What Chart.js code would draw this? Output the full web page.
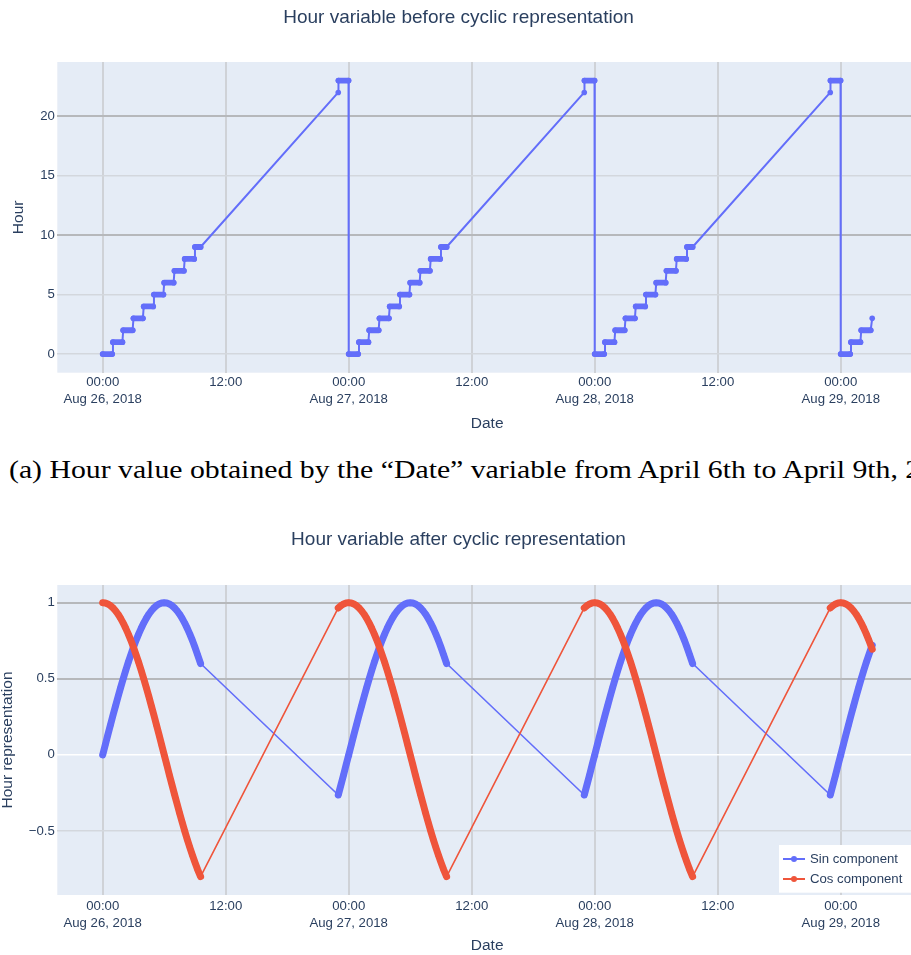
<!DOCTYPE html>
<html>
<head>
<meta charset="utf-8">
<script src="https://cdn.jsdelivr.net/npm/chart.js@4.4.1/dist/chart.umd.min.js"></script>
<style>
  html, body { margin: 0; padding: 0; background: #fff; }
  body { width: 911px; height: 955px; overflow: hidden; position: relative; }
  .box { position: absolute; left: 0; width: 974px; }
  #top { top: 0; height: 438px; }
  #bottom { top: 500px; height: 455px; }
  .caption {
    position: absolute; left: 9px; top: 457px; margin: 0;
    white-space: nowrap; line-height: 1;
    font-family: "Liberation Serif", "DejaVu Serif", serif; font-size: 25px; color: #000;
    transform: scaleX(1.19); transform-origin: 0 0;
  }
</style>
</head>
<body>
<div class="box" id="top"><canvas id="hourChart"></canvas></div>
<p class="caption">(a) Hour value obtained by the “Date” variable from April 6th to April 9th, 2018.</p>
<div class="box" id="bottom"><canvas id="cyclicChart"></canvas></div>

<script>
// x values are hours counted from Aug 26, 2018 00:00
const dayOffsets = [0, 24, 48];
const xTickValues = [0, 12, 24, 36, 48, 60, 72];
const dateLabels = ['Aug 26, 2018', 'Aug 27, 2018', 'Aug 28, 2018', 'Aug 29, 2018'];

// one day of the "Hour" variable: first and last record of each hour
const dayHourTimes = [0, 0.92, 1, 1.92, 2, 2.92, 3, 3.92, 4, 4.92, 5, 5.92, 6, 6.92, 7, 7.92, 8, 8.92, 9, 9.55, 22.98, 23, 23.98];
const dayHourValues = [0, 0, 1, 1, 2, 2, 3, 3, 4, 4, 5, 5, 6, 6, 7, 7, 8, 8, 9, 9, 22, 23, 23];
// Aug 29, up to the last record
const lastHourTimes = [72, 72.92, 73, 73.92, 74, 74.92, 75.07];
const lastHourValues = [0, 0, 1, 1, 2, 2, 3];

// cyclic representation, read every quarter hour
const dayCycTimes = [0, 0.25, 0.5, 0.75, 1, 1.25, 1.5, 1.75, 2, 2.25, 2.5, 2.75, 3, 3.25, 3.5, 3.75,
  4, 4.25, 4.5, 4.75, 5, 5.25, 5.5, 5.75, 6, 6.25, 6.5, 6.75, 7, 7.25, 7.5, 7.75,
  8, 8.25, 8.5, 8.75, 9, 9.25, 9.55, 22.98, 23.25, 23.5, 23.75, 23.98];
const daySin = [0, 0.065, 0.131, 0.195, 0.259, 0.321, 0.383, 0.442, 0.5, 0.556, 0.609, 0.659, 0.707, 0.752, 0.793, 0.831,
  0.866, 0.897, 0.924, 0.947, 0.966, 0.981, 0.991, 0.998, 1, 0.998, 0.991, 0.981, 0.966, 0.947, 0.924, 0.897,
  0.866, 0.831, 0.793, 0.752, 0.707, 0.659, 0.6, -0.264, -0.195, -0.131, -0.065, -0.005];
const dayCos = [1, 0.998, 0.991, 0.981, 0.966, 0.947, 0.924, 0.897, 0.866, 0.831, 0.793, 0.752, 0.707, 0.659, 0.609, 0.556,
  0.5, 0.442, 0.383, 0.321, 0.259, 0.195, 0.131, 0.065, 0, -0.065, -0.131, -0.195, -0.259, -0.321, -0.383, -0.442,
  -0.5, -0.556, -0.609, -0.659, -0.707, -0.752, -0.8, 0.965, 0.981, 0.991, 0.998, 1];
const lastCycTimes = [72, 72.25, 72.5, 72.75, 73, 73.25, 73.5, 73.75, 74, 74.25, 74.5, 74.75, 75, 75.07];
const lastSin = [0, 0.065, 0.131, 0.195, 0.259, 0.321, 0.383, 0.442, 0.5, 0.556, 0.609, 0.659, 0.707, 0.72];
const lastCos = [1, 0.998, 0.991, 0.981, 0.966, 0.947, 0.924, 0.897, 0.866, 0.831, 0.793, 0.752, 0.707, 0.694];

const BLUE = '#636efa';
const RED = '#ef553b';
const TEXT = '#2a3f5f';

Chart.defaults.font.family = '"Liberation Sans", Arial, sans-serif';
Chart.defaults.color = TEXT;

function buildPoints(times, values, lastTimes, lastValues) {
  const pts = [];
  dayOffsets.forEach(off => {
    times.forEach((t, i) => pts.push({ x: off + t, y: values[i] }));
  });
  lastTimes.forEach((t, i) => pts.push({ x: t, y: lastValues[i] }));
  return pts;
}

const plotBackground = {
  id: 'plotBackground',
  beforeDraw(chart) {
    const { ctx, chartArea: a } = chart;
    ctx.save();
    ctx.fillStyle = '#e5ecf6';
    ctx.fillRect(a.left, a.top, a.right - a.left, a.bottom - a.top);
    ctx.restore();
  }
};

// plotly-like legend box in the lower right corner of the plot
const cornerLegend = {
  id: 'cornerLegend',
  afterDraw(chart) {
    const { ctx, chartArea: a } = chart;
    const left = a.right - 138, top = a.bottom - 50;
    ctx.save();
    ctx.fillStyle = '#fff';
    ctx.fillRect(left, top, 136, 47.7);
    ctx.font = '13.2px "Liberation Sans", Arial, sans-serif';
    ctx.textBaseline = 'middle';
    chart.data.datasets.forEach((ds, i) => {
      const y = top + 14 + i * 20;
      ctx.strokeStyle = ds.borderColor;
      ctx.lineWidth = 2;
      ctx.beginPath();
      ctx.moveTo(left + 4, y);
      ctx.lineTo(left + 26, y);
      ctx.stroke();
      ctx.fillStyle = ds.borderColor;
      ctx.beginPath();
      ctx.arc(left + 15, y, 3, 0, Math.PI * 2);
      ctx.fill();
      ctx.fillStyle = TEXT;
      ctx.fillText(ds.label, left + 31, y);
    });
    ctx.restore();
  }
};

function xAxis(height, padding, titleBottom) {
  return {
    type: 'linear',
    min: -4.43,
    max: 79.44,
    afterFit: s => { s.height = height; },
    afterBuildTicks: s => { s.ticks = xTickValues.map(v => ({ value: v })); },
    border: { display: false },
    grid: { color: '#cfd2d7', lineWidth: 2, drawTicks: false },
    ticks: {
      autoSkip: false,
      maxRotation: 0,
      padding: padding,
      font: { size: 13.2, lineHeight: 1.3 },
      callback: v => (v % 24 === 0 ? ['00:00', dateLabels[v / 24]] : '12:00')
    },
    title: { display: true, text: 'Date', font: { size: 15.5 }, padding: { top: 5, bottom: titleBottom } }
  };
}

const commonOptions = {
  responsive: true,
  maintainAspectRatio: false,
  animation: false,
  events: [],
  layout: { padding: { left: 0, right: 57, top: 0, bottom: 0 } }
};

function cyclicDataset(label, data, color, order) {
  return {
    label: label,
    data: data,
    order: order,
    borderColor: color,
    backgroundColor: color,
    borderWidth: 1.6,
    borderCapStyle: 'round',
    borderJoinStyle: 'round',
    pointRadius: 3,
    pointBorderWidth: 0,
    pointBackgroundColor: color,
    segment: {
      // consecutive records give the thick band, the overnight gap a thin line
      borderWidth: c => (c.p1.parsed.x - c.p0.parsed.x < 2 ? 7 : 1.6)
    }
  };
}

new Chart(document.getElementById('hourChart'), {
  type: 'line',
  data: {
    datasets: [{
      label: 'Hour',
      data: buildPoints(dayHourTimes, dayHourValues, lastHourTimes, lastHourValues),
      borderColor: BLUE,
      backgroundColor: BLUE,
      borderWidth: 2,
      borderCapStyle: 'round',
      borderJoinStyle: 'round',
      pointRadius: 2.8,
      pointBorderWidth: 0,
      pointBackgroundColor: BLUE,
      segment: {
        borderWidth: c => (c.p0.parsed.y === c.p1.parsed.y ? 5.8 : 2)
      }
    }]
  },
  options: {
    ...commonOptions,
    plugins: {
      legend: { display: false },
      tooltip: { enabled: false },
      title: {
        display: true,
        text: 'Hour variable before cyclic representation',
        color: TEXT,
        font: { size: 19, weight: 'normal' },
        padding: { top: 6.6, bottom: 32.6 }
      }
    },
    scales: {
      x: xAxis(65.3, 1, 4.7),
      y: {
        min: -1.57,
        max: 24.56,
        afterFit: s => { s.width = 57.3; },
        border: { display: false },
        grid: {
          drawTicks: false,
          color: c => (c.tick.value === 10 || c.tick.value === 20 ? '#b6b8bb' : '#d3d7dd'),
          lineWidth: c => (c.tick.value === 10 || c.tick.value === 20 ? 2 : 1.5)
        },
        ticks: { stepSize: 5, includeBounds: false, padding: 2.5, font: { size: 13.2 } },
        title: { display: true, text: 'Hour', font: { size: 15.5 }, padding: { top: 9.5 } }
      }
    }
  },
  plugins: [plotBackground]
});

new Chart(document.getElementById('cyclicChart'), {
  type: 'line',
  data: {
    datasets: [
      cyclicDataset('Sin component', buildPoints(dayCycTimes, daySin, lastCycTimes, lastSin), BLUE, 1),
      cyclicDataset('Cos component', buildPoints(dayCycTimes, dayCos, lastCycTimes, lastCos), RED, 0)
    ]
  },
  options: {
    ...commonOptions,
    plugins: {
      legend: { display: false },
      tooltip: { enabled: false },
      title: {
        display: true,
        text: 'Hour variable after cyclic representation',
        color: TEXT,
        font: { size: 19, weight: 'normal' },
        padding: { top: 28.6, bottom: 33.6 }
      }
    },
    scales: {
      x: xAxis(60, 2.5, 0),
      y: {
        min: -0.921,
        max: 1.116,
        afterFit: s => { s.width = 57.3; },
        border: { display: false },
        grid: {
          drawTicks: false,
          color: c => {
            const v = c.tick.value;
            if (v === 1 || v === 0.5) return '#b6b8bb';
            if (v === 0) return '#ffffff';
            return '#d3d7dd';
          },
          lineWidth: c => (c.tick.value > 0 ? 2 : 1.5)
        },
        ticks: {
          stepSize: 0.5,
          includeBounds: false,
          padding: 2.5,
          font: { size: 13.2 },
          callback: v => (v < 0 ? '\u2212' + Math.abs(v) : String(v))
        },
        title: { display: true, text: 'Hour representation', font: { size: 15.5 }, padding: { top: -1.8 } }
      }
    }
  },
  plugins: [plotBackground, cornerLegend]
});
</script>
</body>
</html>
